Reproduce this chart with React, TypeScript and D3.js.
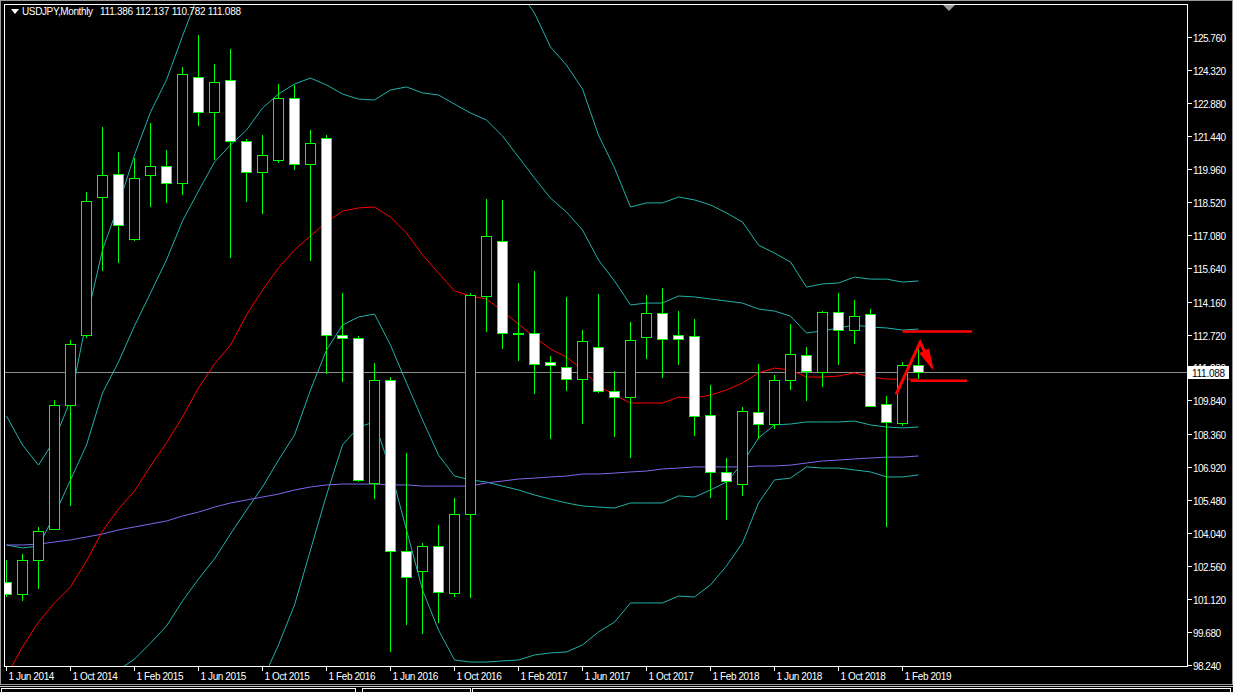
import React from 'react';
import * as d3 from 'd3';

// monthly bars, Jun 2014 .. Mar 2019
const months = [
  '2014-06', '2014-07', '2014-08', '2014-09', '2014-10', '2014-11', '2014-12',
  '2015-01', '2015-02', '2015-03', '2015-04', '2015-05', '2015-06', '2015-07', '2015-08', '2015-09', '2015-10', '2015-11', '2015-12',
  '2016-01', '2016-02', '2016-03', '2016-04', '2016-05', '2016-06', '2016-07', '2016-08', '2016-09', '2016-10', '2016-11', '2016-12',
  '2017-01', '2017-02', '2017-03', '2017-04', '2017-05', '2017-06', '2017-07', '2017-08', '2017-09', '2017-10', '2017-11', '2017-12',
  '2018-01', '2018-02', '2018-03', '2018-04', '2018-05', '2018-06', '2018-07', '2018-08', '2018-09', '2018-10', '2018-11', '2018-12',
  '2019-01', '2019-02', '2019-03',
];

const opens = [
  101.86, 101.34, 102.83, 104.19, 109.62, 112.69, 118.74,
  119.74, 116.89, 119.70, 120.09, 119.35, 124.02, 122.46, 123.86, 121.19, 119.83, 120.36, 123.07,
  120.18, 121.32, 112.69, 112.56, 106.23, 110.72, 103.22, 102.35, 103.44, 101.38, 104.84, 114.40,
  116.81, 112.78, 112.78, 111.50, 111.29, 110.76, 112.16, 110.23, 109.97, 112.63, 113.65, 112.69,
  112.64, 109.18, 106.68, 106.18, 109.31, 108.79, 110.72, 111.81, 111.07, 113.70, 112.91, 113.61,
  109.66, 108.83, 111.386,
];
const highs = [
  102.84, 103.10, 104.29, 109.85, 112.48, 118.95, 121.82,
  120.71, 120.44, 121.98, 120.79, 124.43, 125.85, 124.58, 125.22, 121.28, 121.47, 123.69, 123.66,
  121.68, 121.47, 114.53, 112.65, 111.47, 110.86, 107.52, 103.57, 104.36, 105.55, 114.53, 118.65,
  118.61, 114.97, 115.51, 111.78, 114.37, 112.92, 114.50, 111.11, 113.27, 114.45, 114.76, 113.74,
  113.40, 110.51, 107.32, 109.53, 111.43, 110.95, 113.18, 112.16, 113.75, 114.53, 114.23, 113.83,
  110.01, 111.50, 112.137,
];
const lows = [
  101.23, 101.06, 101.56, 104.14, 105.22, 112.56, 115.52,
  115.84, 116.83, 118.30, 118.47, 118.85, 121.86, 120.37, 116.09, 118.54, 118.02, 120.22, 119.94,
  115.96, 110.98, 110.65, 106.27, 105.53, 98.82, 100.01, 99.59, 100.09, 101.23, 101.19, 112.85,
  112.07, 111.57, 110.10, 108.13, 110.23, 108.81, 110.16, 108.23, 107.32, 111.64, 110.83, 111.40,
  108.28, 105.57, 104.61, 105.66, 108.13, 108.60, 110.28, 109.80, 110.41, 111.37, 112.29, 109.55,
  104.30, 108.73, 110.782,
];
const closes = [
  101.34, 102.84, 104.10, 109.62, 112.29, 118.56, 119.70,
  117.51, 119.57, 120.09, 119.35, 124.13, 122.46, 123.77, 121.19, 119.83, 120.58, 123.07, 120.18,
  121.10, 112.69, 112.56, 106.36, 110.72, 103.22, 102.08, 103.44, 101.43, 104.84, 114.44, 117.03,
  112.78, 112.75, 111.42, 111.37, 110.76, 112.42, 110.23, 109.97, 112.47, 113.65, 112.51, 112.51,
  109.14, 106.68, 106.29, 109.36, 108.79, 110.72, 111.86, 111.11, 113.70, 112.91, 113.52, 109.58,
  108.88, 111.37, 111.088,
];

// indicator lines
const bandMid = [
  97.76, 99.03, 100.12, 100.96, 101.66, 102.80, 104.11,
  105.08, 105.86, 106.96, 107.97, 109.11, 110.38, 111.43, 112.26, 113.58, 114.67, 115.64, 116.43,
  117.04, 117.65, 118.13, 118.27, 118.31, 117.87, 117.17, 116.21, 115.42, 114.63, 114.41, 114.28,
  113.75, 113.18, 112.61, 112.09, 111.74, 111.17, 110.47, 110.07, 109.72, 109.72, 109.72, 109.98,
  109.94, 110.07, 110.29, 110.60, 111.04, 111.25, 111.17, 110.86, 110.86, 110.90, 111.04, 110.86,
  110.77, 110.77, 110.77,
];
const longMa = [
  103.50, 103.50, 103.54, 103.63, 103.72, 103.85, 103.98,
  104.16, 104.29, 104.42, 104.55, 104.77, 104.94, 105.16, 105.34, 105.47, 105.60, 105.73, 105.91,
  106.04, 106.13, 106.17, 106.17, 106.17, 106.13, 106.13, 106.08, 106.08, 106.08, 106.08, 106.22,
  106.30, 106.39, 106.43, 106.48, 106.52, 106.61, 106.61, 106.65, 106.70, 106.74, 106.83, 106.87,
  106.92, 106.92, 106.92, 106.92, 106.96, 106.96, 107.00, 107.09, 107.18, 107.22, 107.27, 107.31,
  107.35, 107.35, 107.40,
];
const outerUpper = [
  109.15, 107.88, 107.00, 108.10, 109.85, 113.36, 116.43,
  118.40, 120.59, 122.47, 123.88, 125.80, 127.64, 129.13, 129.79, 129.79, 130.62, 130.89, 130.97,
  130.89, 129.66, 128.39, 127.82, 127.69, 129.00, 129.97, 130.40, 131.02, 131.02, 130.45, 129.97,
  129.09, 127.82, 126.81, 125.32, 124.53, 123.48, 121.46, 120.02, 118.31, 118.49, 118.49, 118.75,
  118.62, 118.40, 118.05, 117.65, 116.64, 116.29, 115.90, 114.80, 114.94, 114.98, 115.24, 115.15,
  115.15, 115.02, 115.07,
];
const innerUpper = [
  103.50, 103.37, 103.45, 104.81, 106.35, 107.88, 110.16,
  111.52, 113.10, 114.54, 115.99, 117.70, 119.01, 120.28, 121.03, 121.68, 122.65, 123.26, 123.70,
  123.96, 123.66, 123.26, 123.04, 123.00, 123.44, 123.57, 123.31, 123.22, 122.82, 122.43, 122.12,
  121.42, 120.50, 119.58, 118.70, 118.09, 117.30, 115.99, 115.07, 114.02, 114.10, 114.10, 114.41,
  114.37, 114.28, 114.19, 114.10, 113.84, 113.75, 113.53, 112.79, 112.88, 113.01, 113.14, 113.05,
  113.01, 112.92, 112.96,
];
const innerLower = [
  92.02, 94.69, 96.79, 97.10, 96.97, 97.71, 98.06,
  98.02, 98.50, 99.20, 99.95, 101.04, 102.01, 102.89, 103.98, 105.03, 106.04, 107.22, 108.32,
  110.29, 112.04, 113.14, 113.49, 113.62, 112.26, 110.60, 108.98, 107.44, 106.52, 106.35, 106.26,
  106.08, 105.91, 105.69, 105.51, 105.34, 105.21, 105.16, 105.12, 105.34, 105.34, 105.34, 105.65,
  105.60, 105.91, 106.26, 107.09, 108.19, 108.76, 108.80, 108.89, 108.89, 108.89, 108.93, 108.76,
  108.67, 108.63, 108.67,
];
const outerLower = [
  86.28, 90.35, 93.46, 93.24, 92.28, 92.63, 92.02,
  92.19, 91.40, 91.80, 91.93, 91.93, 93.11, 93.73, 94.73, 97.36, 97.58, 99.12, 100.87,
  103.28, 105.69, 107.88, 108.67, 108.89, 106.79, 104.16, 101.53, 99.77, 98.46, 98.37, 98.37,
  98.42, 98.46, 98.68, 98.77, 98.81, 99.12, 99.69, 100.12, 100.96, 100.96, 100.96, 101.26,
  101.22, 101.75, 102.58, 103.59, 105.34, 106.35, 106.43, 106.92, 106.87, 106.87, 106.79, 106.70,
  106.48, 106.48, 106.57,
];

const priceTicks = [
  125.76, 124.32, 122.88, 121.44, 119.96, 118.52, 117.08, 115.64, 114.16, 112.72,
  111.28, 109.84, 108.36, 106.92, 105.48, 104.04, 102.56, 101.12, 99.68, 98.24,
];
const dateTicks = [
  '1 Jun 2014', '1 Oct 2014', '1 Feb 2015', '1 Jun 2015', '1 Oct 2015', '1 Feb 2016', '1 Jun 2016',
  '1 Oct 2016', '1 Feb 2017', '1 Jun 2017', '1 Oct 2017', '1 Feb 2018', '1 Jun 2018', '1 Oct 2018', '1 Feb 2019',
];

const title = 'USDJPY,Monthly';
const lastPrice = 111.088;

// hand-drawn marks on the chart (bar index, price)
const levelLines = [
  { from: 56.0, to: 60.35, price: 112.85 },
  { from: 56.5, to: 60.05, price: 110.7 },
];
const arrowPath = [
  { i: 55.6, p: 110.1 },
  { i: 57.1, p: 112.38 },
  { i: 57.9, p: 111.2 },
];

const W = 1233;
const H = 692;
const L = 4.5, T = 4.5, R = 1187.5, B = 666.5;
const font = '"Liberation Sans", Arial, sans-serif';

export default function App() {
  const x = d3.scaleLinear().domain([0, 1]).range([6.5, 22.5]);
  const y = d3.scaleLinear().domain([98.24, 125.76]).range([665, 37]);
  const px = (v: number) => Math.round(v) + 0.5;

  const line = d3.line<number>().x((_, i) => x(i)).y(d => y(d));
  const bands = [
    { data: outerUpper, color: '#20b2aa' },
    { data: innerUpper, color: '#20b2aa' },
    { data: innerLower, color: '#20b2aa' },
    { data: outerLower, color: '#20b2aa' },
    { data: longMa, color: '#7b68ee' },
    { data: bandMid, color: '#ff0000' },
  ];

  // arrow: shaft stops short of the tip, head is a narrow filled triangle
  const ap = arrowPath.map(d => [x(d.i), y(d.p)] as [number, number]);
  const [ax, ay] = ap[ap.length - 1];
  const [bx, by] = ap[ap.length - 2];
  const ang = Math.atan2(ay - by, ax - bx);
  const headLen = 20, headHalf = 5;
  const baseX = ax - Math.cos(ang) * headLen, baseY = ay - Math.sin(ang) * headLen;
  const nx = -Math.sin(ang), ny = Math.cos(ang);
  const headPts = [
    [ax, ay],
    [baseX + nx * headHalf, baseY + ny * headHalf],
    [baseX - nx * headHalf, baseY - ny * headHalf],
  ];
  const shaft = [...ap.slice(0, -1), [baseX + Math.cos(ang) * 3, baseY + Math.sin(ang) * 3]];

  const lastY = px(y(lastPrice));

  return (
    <svg width={W} height={H} style={{ position: 'fixed', left: 0, top: 0, display: 'block', background: '#000' }}>
      <rect x={0} y={0} width={W} height={H} fill="#000" />
      <rect x={0.5} y={0.5} width={W - 1} height={684} fill="none" stroke="#9a9a9a" />
      <defs>
        <clipPath id="plot">
          <rect x={L} y={T} width={R - L} height={B - T} />
        </clipPath>
      </defs>

      <g clipPath="url(#plot)">
        <line x1={L} x2={R} y1={lastY} y2={lastY} stroke="#8c8c8c" shapeRendering="crispEdges" />
        {bands.map((b, k) => (
          <path key={k} d={line(b.data) || ''} fill="none" stroke={b.color} strokeWidth={1} />
        ))}

        {months.map((m, i) => {
          const cx = x(i);
          const o = opens[i], c = closes[i];
          const top = px(y(Math.max(o, c)));
          const bot = px(y(Math.min(o, c)));
          return (
            <g key={m} shapeRendering="crispEdges">
              <line x1={cx} x2={cx} y1={y(highs[i])} y2={y(lows[i])} stroke="#00ff00" />
              <rect x={cx - 5} y={top} width={10} height={Math.max(bot - top, 0.01)}
                fill={c < o ? '#ffffff' : '#000000'} stroke="#00ff00" />
            </g>
          );
        })}

        {levelLines.map((l, k) => (
          <line key={k} x1={x(l.from)} x2={x(l.to)} y1={y(l.price)} y2={y(l.price)} stroke="#ff0000" strokeWidth={2.5} />
        ))}
        <polyline points={shaft.map(p => p.join(',')).join(' ')} fill="none" stroke="#ff0000" strokeWidth={3} strokeLinejoin="miter" />
        <polygon points={headPts.map(p => p.join(',')).join(' ')} fill="#ff0000" stroke="#ff0000" strokeLinejoin="miter" />
      </g>

      <rect x={L} y={T} width={R - L} height={B - T} fill="none" stroke="#ffffff" shapeRendering="crispEdges" />
      <polygon points="943,5 955,5 949,11" fill="#9a9a9a" />

      {priceTicks.map(v => {
        const ty = px(y(v));
        return (
          <g key={v}>
            <line x1={R} x2={R + 4} y1={ty} y2={ty} stroke="#ffffff" shapeRendering="crispEdges" />
            <text x={1193} y={ty + 4} fill="#ffffff" fontSize={10} fontFamily={font} textLength={v < 100 ? 28 : 33}>
              {v.toFixed(3)}
            </text>
          </g>
        );
      })}
      <rect x={1188} y={lastY - 6.5} width={41} height={13} fill="#ffffff" />
      <text x={1192} y={lastY + 4} fill="#000000" fontSize={10} fontFamily={font} textLength={33}>{lastPrice.toFixed(3)}</text>

      {dateTicks.map((d, k) => {
        const tx = px(x(k * 4) - 0.5);
        return (
          <g key={d}>
            <line x1={tx} x2={tx} y1={B} y2={B + 4} stroke="#ffffff" shapeRendering="crispEdges" />
            <text x={tx + 2} y={680} fill="#ffffff" fontSize={10} fontFamily={font} letterSpacing={-0.4}>{d}</text>
          </g>
        );
      })}

      <polygon points="11,9 19,9 15,14" fill="#ffffff" />
      <text x={22} y={15} fill="#ffffff" fontSize={10} fontFamily={font} textLength={71}>{title}</text>
      <text x={100} y={15} fill="#ffffff" fontSize={10} fontFamily={font} textLength={141}>
        {[opens, highs, lows, closes].map(a => a[a.length - 1].toFixed(3)).join(' ')}
      </text>

      <line x1={0} x2={W} y1={686.5} y2={686.5} stroke="#c8c8c8" />
      <rect x={1.5} y={688.5} width={354} height={6} fill="none" stroke="#ffffff" />
      <rect x={362.5} y={688.5} width={108} height={6} fill="none" stroke="#ffffff" />
      <rect x={472.5} y={688.5} width={758} height={6} fill="none" stroke="#ffffff" />
    </svg>
  );
}
